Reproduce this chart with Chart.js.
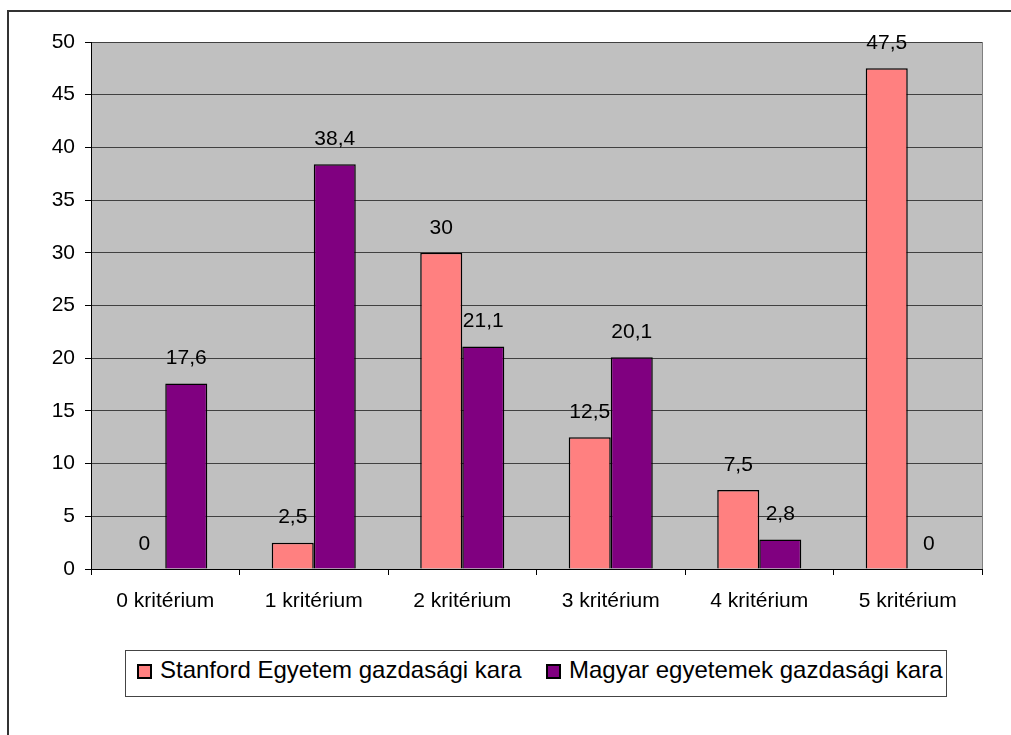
<!DOCTYPE html>
<html>
<head>
<meta charset="utf-8">
<script src="https://cdn.jsdelivr.net/npm/chart.js@4/dist/chart.umd.min.js"></script>
<style>
  html, body { margin: 0; padding: 0; background: #fff; overflow: hidden; }
  body { width: 1011px; height: 735px; position: relative; font-family: "Liberation Sans", Arial, sans-serif; }
  #keret { position: absolute; left: 7px; top: 10px; right: -5px; bottom: -5px; border-left: 2px solid #333; border-top: 2px solid #333; }
  #grafiek { position: absolute; left: 0; top: 0; }
  #jelmagyarazat { position: absolute; left: 125px; top: 650px; width: 820px; height: 45px; border: 1px solid #444; background: #fff; }
  .tetel { position: absolute; top: 5px; font-size: 24px; line-height: 28px; color: #000; white-space: nowrap; }
  .negyzet { position: absolute; top: 13px; width: 11px; height: 11px; border: 2px solid #000; }
</style>
</head>
<body>
<div id="keret"></div>
<canvas id="grafiek" width="1011" height="640"></canvas>
<div id="jelmagyarazat"></div>
<script>
// Adatok
const kategoriak = ["0 kritérium", "1 kritérium", "2 kritérium", "3 kritérium", "4 kritérium", "5 kritérium"];
const stanfordErtekek = [0, 2.5, 30, 12.5, 7.5, 47.5];
const magyarErtekek = [17.6, 38.4, 21.1, 20.1, 2.8, 0];
const sorozatNevek = ["Stanford Egyetem gazdasági kara", "Magyar egyetemek gazdasági kara"];
const sorozatSzinek = ["#FF8080", "#800080"];

const BETU = '"Liberation Sans", Arial, sans-serif';

// szürke rajzterület háttér + jobb oldali keret
const hatterPlugin = {
    id: 'hatter',
    beforeDraw(chart) {
        const a = chart.chartArea, ctx = chart.ctx;
        ctx.save();
        ctx.fillStyle = '#C0C0C0';
        ctx.fillRect(a.left, a.top, a.right - a.left, a.bottom - a.top);
        ctx.restore();
    },
    afterDraw(chart) {
        const a = chart.chartArea, ctx = chart.ctx;
        ctx.save();
        ctx.strokeStyle = '#808080';
        ctx.lineWidth = 1;
        ctx.beginPath();
        ctx.moveTo(a.right + 0.5, a.top);
        ctx.lineTo(a.right + 0.5, a.bottom);
        ctx.stroke();
        ctx.restore();
    }
};

// értékcímkék tizedesvesszővel
const cimkePlugin = {
    id: 'cimkek',
    afterDatasetsDraw(chart) {
        const ctx = chart.ctx;
        ctx.save();
        ctx.font = '21px ' + BETU;
        ctx.fillStyle = '#000';
        ctx.textAlign = 'center';
        ctx.textBaseline = 'middle';
        chart.data.datasets.forEach((ds, i) => {
            chart.getDatasetMeta(i).data.forEach((bar, j) => {
                ctx.fillText(String(ds.data[j]).replace('.', ','), bar.x, bar.y - 25);
            });
        });
        ctx.restore();
    }
};

new Chart(document.getElementById('grafiek'), {
    type: 'bar',
    data: {
        labels: kategoriak,
        datasets: sorozatNevek.map((nev, i) => ({
            label: nev,
            data: i === 0 ? stanfordErtekek : magyarErtekek,
            backgroundColor: sorozatSzinek[i],
            borderColor: '#000',
            borderWidth: 1.5,
            categoryPercentage: 0.566,
            barPercentage: 1.0
        }))
    },
    options: {
        responsive: false,
        animation: false,
        devicePixelRatio: 1,
        layout: { padding: { left: 0, top: 42, right: 29, bottom: 0 } },
        plugins: { legend: { display: false }, tooltip: { enabled: false } },
        scales: {
            x: {
                afterFit(s) { s.height = 71; },
                grid: { offset: true, drawOnChartArea: false, drawTicks: true, tickLength: 6, tickColor: '#000' },
                border: { color: '#000', width: 1 },
                ticks: { color: '#000', font: { family: BETU, size: 21 }, padding: 14, maxRotation: 0 }
            },
            y: {
                min: 0, max: 50,
                afterFit(s) { s.width = 91; },
                grid: { color: '#404040', lineWidth: 1, tickLength: 6, tickColor: '#000' },
                border: { color: '#000', width: 1 },
                ticks: { stepSize: 5, color: '#000', font: { family: BETU, size: 21 }, padding: 10 }
            }
        }
    },
    plugins: [hatterPlugin, cimkePlugin]
});

// jelmagyarázat
const jm = document.getElementById('jelmagyarazat');
const poziciok = [{ n: 11, t: 34 }, { n: 420, t: 443 }];
sorozatNevek.forEach((nev, i) => {
    const n = document.createElement('div');
    n.className = 'negyzet';
    n.style.left = poziciok[i].n + 'px';
    n.style.background = sorozatSzinek[i];
    jm.appendChild(n);
    const t = document.createElement('div');
    t.className = 'tetel';
    t.style.left = poziciok[i].t + 'px';
    t.innerText = nev;
    jm.appendChild(t);
});
</script>
</body>
</html>
